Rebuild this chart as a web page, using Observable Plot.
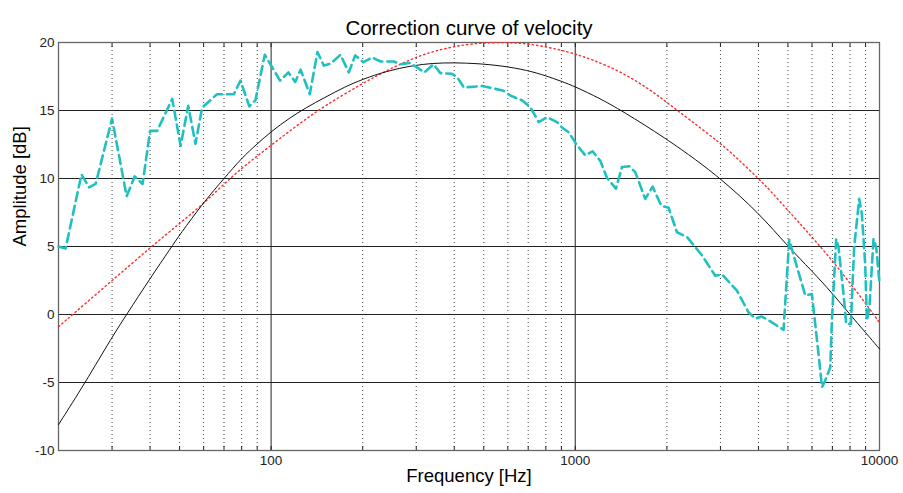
<!DOCTYPE html>
<html>
<head>
<meta charset="utf-8">
<script src="https://cdn.jsdelivr.net/npm/d3@7"></script>
<script src="https://cdn.jsdelivr.net/npm/@observablehq/plot@0.6"></script>
<style>
  html, body { margin: 0; padding: 0; background: #fff; }
  #chart svg { display: block; }
</style>
</head>
<body>
<div id="chart"></div>
<script>
// Measured velocity response (dB) at frequency (Hz)
const measuredFreq = [20, 21.1, 23.8, 25.2, 26.5, 30, 33.5, 35.6, 37.8, 40, 42.2, 47.3, 50.4, 53.4, 56.4, 59.3,
  66.4, 75.4, 79.3, 84.8, 88.8, 95.3, 107, 114, 120, 125, 134, 142, 149, 157, 169, 180, 189, 201, 215, 229,
  253, 266, 287, 319, 342, 360, 393, 409, 430, 463, 494, 532, 581, 611, 668, 711, 758, 807, 871, 904, 951,
  1013, 1079, 1140, 1208, 1271, 1360, 1424, 1505, 1575, 1698, 1795, 1917, 2026, 2159, 2328, 2480, 2609,
  2884, 3034, 3400, 3712, 3904, 4100, 4375, 4836, 5050, 5353, 5702, 5995, 6304, 6470, 6630, 6887, 6976,
  7205, 7333, 7616, 7773, 8053, 8255, 8576, 8750, 8974, 9090, 9268, 9556, 9752, 10000];
const measuredDb = [5.0, 4.85, 10.3, 9.35, 9.6, 14.4, 8.7, 10.15, 9.6, 13.5, 13.5, 15.85, 12.4, 15.35, 12.55, 15.2,
  16.2, 16.2, 17.2, 15.3, 15.75, 19.1, 17.2, 17.8, 17.1, 18.0, 16.2, 19.3, 18.3, 18.45, 19.1, 17.8, 19.05, 18.55, 18.9, 18.6,
  18.6, 18.4, 18.5, 17.8, 18.4, 17.75, 17.7, 17.45, 16.7, 16.75, 16.8, 16.65, 16.45, 16.1, 15.75, 15.25, 14.15, 14.5, 14.15, 13.75, 13.4,
  12.45, 11.7, 12.0, 11.3, 10.05, 9.25, 10.85, 10.9, 10.45, 8.5, 9.4, 8.0, 7.85, 6.05, 5.7, 4.95, 4.35,
  2.85, 2.95, 1.75, 0.15, -0.3, -0.15, -0.5, -1.13, 5.5, 3.5, 1.4, 1.5, -2.9, -5.35, -4.85, -3.9, -0.4,
  5.55, 4.95, 1.5, -0.7, -0.7, 4.95, 8.5, 7.4, 3.7, -0.45, 0.55, 5.55, 4.95, 2.3];

// Fitted correction curve (solid black)
const fitFreq = [20, 24.5, 30, 33.5, 40, 47, 50, 60, 70, 80, 90, 100, 115, 130, 150, 175, 200, 240, 290, 340, 400, 480,
  570, 700, 800, 900, 1000, 1200, 1420, 2000, 2500, 3000, 4000, 5000, 6000, 7000, 8000, 9000, 10000];
const fitDb = [-8.1, -5, -1.65, 0, 2.65, 4.95, 5.85, 8.25, 10, 11.5, 12.55, 13.45, 14.45, 15.2, 15.95, 16.75, 17.3, 17.9, 18.3, 18.48, 18.52, 18.45,
  18.3, 17.95, 17.55, 17.15, 16.75, 15.9, 15.0, 12.9, 11.35, 10.0, 7.5, 5.0, 3.2, 1.55, 0.0, -1.33, -2.53];

// Target curve (red dotted)
const targetFreq = [20, 30, 40, 50, 60, 70, 80, 90, 100, 125, 150, 200, 240, 300, 360, 440, 520, 630, 730, 880,
  1000, 1135, 1400, 1730, 2000, 2350, 3000, 3400, 4000, 4380, 5000, 5470, 6050, 7100, 8000, 9090, 10000];
const targetDb = [-0.9, 2.5, 4.9, 6.7, 8.15, 9.6, 10.75, 11.65, 12.45, 14.1, 15.35, 17.0, 17.95, 18.95, 19.5, 19.88, 20.0, 20.0, 19.85, 19.5,
  19.15, 18.75, 17.9, 16.65, 15.6, 14.4, 12.6, 11.5, 10.0, 9.1, 7.65, 6.7, 5.6, 3.8, 2.3, 0.7, -0.6];

// Axes and grid
const freqLabels = [100, 1000, 10000];
const minorFreqs = [30, 40, 50, 60, 70, 80, 90, 200, 300, 400, 500, 600, 700, 800, 900,
  2000, 3000, 4000, 5000, 6000, 7000, 8000, 9000];
const majorFreqs = [100, 1000];
const dbTicks = [-10, -5, 0, 5, 10, 15, 20];
const dbGrid = [-5, 0, 5, 10, 15];

const zip = (xs, ys) => xs.map((f, i) => ({f, db: ys[i]}));
const measured = zip(measuredFreq, measuredDb);
const fit = zip(fitFreq, fitDb);
const target = zip(targetFreq, targetDb);

const font = "'Liberation Sans', Arial, Helvetica, sans-serif";

const chart = Plot.plot({
  width: 903,
  height: 493,
  marginTop: 42,
  marginRight: 24,
  marginBottom: 43,
  marginLeft: 58,
  style: {fontFamily: font, background: "#fff", color: "#000"},
  x: {type: "log", domain: [20, 10000]},
  y: {domain: [-10, 20]},
  marks: [
    Plot.ruleX(minorFreqs, {stroke: "#000", strokeWidth: 1, strokeDasharray: "1,3", strokeOpacity: 0.75}),
    Plot.ruleX(majorFreqs, {stroke: "#555", strokeWidth: 1.3}),
    Plot.ruleY(dbGrid, {stroke: "#222", strokeWidth: 1}),
    Plot.frame({stroke: "#666", strokeWidth: 1.3}),
    Plot.axisX([...minorFreqs, ...majorFreqs], {anchor: "bottom", label: null, tickSize: -4, tickFormat: () => "", stroke: "#222"}),
    Plot.axisX([...minorFreqs, ...majorFreqs], {anchor: "top", label: null, tickSize: -4, tickFormat: () => "", stroke: "#222"}),
    Plot.axisX(freqLabels, {anchor: "bottom", label: null, tickSize: 0, tickPadding: 5, fontSize: 13.5, fill: "#222", tickFormat: d => String(d)}),
    Plot.axisY(dbTicks, {anchor: "left", label: null, tickSize: 0, tickPadding: 4, fontSize: 13.5, fill: "#222", tickFormat: d => String(d)}),
    Plot.line(target, {x: "f", y: "db", stroke: "#ff2a2a", strokeWidth: 1.4, strokeDasharray: "1.4,3", curve: "basis"}),
    Plot.line(fit, {x: "f", y: "db", stroke: "#111", strokeWidth: 1, curve: "basis"}),
    Plot.line(measured, {x: "f", y: "db", stroke: "#20c0c0", strokeWidth: 2.6, strokeDasharray: "9,5", curve: "linear"}),
    Plot.text(["Correction curve of velocity"], {frameAnchor: "top", dy: -22, fontSize: 20.5, fill: "#000"}),
    Plot.text(["Frequency [Hz]"], {frameAnchor: "bottom", dy: 31, fontSize: 18.5, fill: "#000"}),
    Plot.text(["Amplitude [dB]"], {frameAnchor: "left", dx: -38, rotate: -90, fontSize: 18.5, fill: "#000"})
  ]
});

document.getElementById("chart").append(chart);
</script>
</body>
</html>
